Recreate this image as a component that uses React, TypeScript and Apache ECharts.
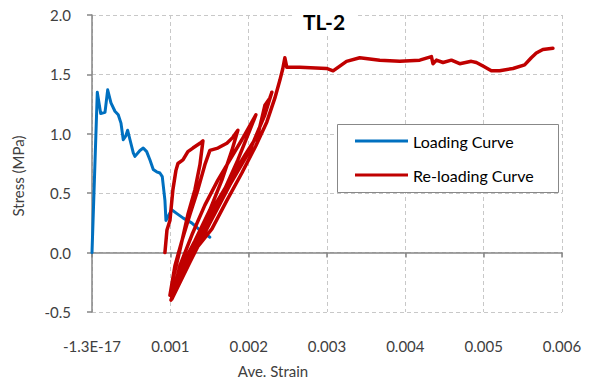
import React, { useEffect, useRef } from "react";
import * as echarts from "echarts";

// Loading curve (strain, stress in MPa)
const loadingStrain = [
  0, 0.0000676, 0.000111, 0.000166, 0.0002, 0.000242, 0.000293, 0.000335, 0.00037,
  0.000399, 0.00043, 0.000455, 0.000485, 0.000527, 0.000548, 0.000612, 0.000654,
  0.000698, 0.00074, 0.000782, 0.000825, 0.000867, 0.000897, 0.000931, 0.000944,
  0.001017, 0.00108, 0.001165, 0.001272, 0.001378, 0.001505,
];
const loadingStress = [
  0.0, 1.35, 1.17, 1.18, 1.37, 1.26, 1.19, 1.16, 1.09, 0.95, 0.98, 1.03, 0.95, 0.84,
  0.81, 0.86, 0.88, 0.85, 0.78, 0.7, 0.68, 0.67, 0.64, 0.44, 0.27, 0.36, 0.33, 0.29,
  0.25, 0.19, 0.13,
];

// Re-loading curve: repeated unload/reload cycles, then the plateau
const reloadStrain = [
  0.000931, 0.000957, 0.000995, 0.001033, 0.001071, 0.001097, 0.001161, 0.001224, 0.001288, 0.001378, 0.001416,
  0.001378, 0.001314, 0.001224, 0.001122, 0.001046, 0.000995,
  0.001059, 0.001148, 0.00125, 0.001352, 0.001441, 0.001505, 0.001607, 0.001722, 0.001798, 0.001862,
  0.001786, 0.001658, 0.001505, 0.001314, 0.001148, 0.00102,
  0.001122, 0.001276, 0.001441, 0.001607, 0.00176, 0.001913, 0.002015, 0.002092,
  0.002015, 0.001862, 0.001658, 0.001441, 0.001224, 0.001008,
  0.001186, 0.001378, 0.001569, 0.00176, 0.001952, 0.002117, 0.002168, 0.002207, 0.00227, 0.002296,
  0.002207, 0.002015, 0.00176, 0.001505, 0.00125, 0.00102,
  0.001122, 0.001314, 0.001531, 0.001722, 0.001913, 0.002092, 0.002232, 0.002334, 0.002398, 0.002436, 0.002462, 0.002487,
  0.002653, 0.002994, 0.003078, 0.003249, 0.003418, 0.003673, 0.003929, 0.004184, 0.004333, 0.004353,
  0.004397, 0.004481, 0.004588, 0.004694, 0.004843, 0.004907, 0.004991, 0.005098, 0.005204, 0.005374,
  0.005523, 0.005608, 0.005672, 0.005756, 0.005884,
];
const reloadStress = [
  0.0, 0.19, 0.27, 0.53, 0.69, 0.75, 0.78, 0.85, 0.88, 0.92, 0.94,
  0.74, 0.53, 0.32, 0.02, -0.19, -0.36,
  -0.11, 0.1, 0.32, 0.53, 0.74, 0.86, 0.88, 0.92, 0.97, 1.03,
  0.86, 0.61, 0.36, 0.1, -0.11, -0.39,
  -0.11, 0.15, 0.4, 0.61, 0.78, 0.95, 1.07, 1.16,
  1.03, 0.78, 0.48, 0.2, -0.07, -0.4,
  -0.08, 0.17, 0.4, 0.61, 0.82, 0.99, 1.13, 1.24, 1.3, 1.35,
  1.16, 0.86, 0.57, 0.25, -0.08, -0.39,
  -0.23, 0.02, 0.2, 0.44, 0.67, 0.9, 1.1, 1.3, 1.45, 1.55, 1.64, 1.56,
  1.56, 1.55, 1.53, 1.61, 1.64, 1.62, 1.61, 1.62, 1.65, 1.59,
  1.62, 1.6, 1.62, 1.59, 1.61, 1.6, 1.57, 1.53, 1.53, 1.55,
  1.58, 1.64, 1.68, 1.71, 1.72,
];

const seriesNames = ["Loading Curve", "Re-loading Curve"];
const xTicks = { min: 0, max: 0.006, interval: 0.001 };
const yTicks = { min: -0.5, max: 2, interval: 0.5 };

const FONT = "Lato, 'Liberation Sans', sans-serif";
const TEXT = "#404040";

export default function App() {
  const ref = useRef<HTMLDivElement>(null);

  useEffect(() => {
    if (!ref.current) return;
    const chart = echarts.init(ref.current, undefined, { renderer: "svg" });
    const zip = (xs: number[], ys: number[]) => xs.map((x, i) => [x, ys[i]]);

    chart.setOption({
      animation: false,
      backgroundColor: "#ffffff",
      textStyle: { fontFamily: FONT },
      title: {
        text: "TL-2",
        left: 292,
        top: 7,
        padding: [4, 11],
        backgroundColor: "#ffffff",
        textStyle: { fontFamily: FONT, fontSize: 21, fontWeight: "bold", color: "#000" },
        z: 10,
      },
      grid: { left: 92, right: 33, top: 15, bottom: 69, containLabel: false },
      xAxis: {
        type: "value",
        ...xTicks,
        axisLine: { lineStyle: { color: "#868686", width: 1.5 } },
        axisTick: { show: true, length: 5, lineStyle: { color: "#868686", width: 1.5 } },
        splitLine: { show: true, lineStyle: { color: "#c8c8c8", type: [4, 3], width: 1 } },
        axisLabel: {
          margin: 26,
          fontSize: 15,
          color: TEXT,
          fontFamily: FONT,
          formatter: (v: number) => (v === 0 ? "-1.3E-17" : v.toFixed(3)),
        },
      },
      yAxis: {
        type: "value",
        ...yTicks,
        axisLine: { show: true, lineStyle: { color: "#868686", width: 1.5 } },
        axisTick: { show: true, length: 5, lineStyle: { color: "#868686", width: 1.5 } },
        splitLine: { show: true, lineStyle: { color: "#c8c8c8", type: [4, 3], width: 1 } },
        axisLabel: {
          margin: 21,
          fontSize: 15,
          color: TEXT,
          fontFamily: FONT,
          formatter: (v: number) => v.toFixed(1),
        },
      },
      legend: {
        orient: "vertical",
        left: 355,
        top: 131,
        padding: 0,
        itemGap: 14,
        itemWidth: 53,
        itemHeight: 3,
        icon: "rect",
        z: 20,
        data: seriesNames,
        textStyle: { fontFamily: FONT, fontSize: 16, color: "#000", lineHeight: 20, padding: [0, 0, 0, 0] },
      },
      graphic: [
        {
          type: "rect",
          z: 15,
          shape: { x: 337.5, y: 124.5, width: 221, height: 68 },
          style: { fill: "#ffffff", stroke: "#888888", lineWidth: 1 },
        },
        {
          type: "text",
          x: 18,
          y: 176,
          rotation: Math.PI / 2,
          style: {
            text: "Stress (MPa)",
            fontFamily: FONT,
            fontSize: 15,
            fill: TEXT,
            textAlign: "center",
            textVerticalAlign: "middle",
          },
        },
        {
          type: "text",
          x: 273,
          y: 371,
          style: {
            text: "Ave. Strain",
            fontFamily: FONT,
            fontSize: 15,
            fill: TEXT,
            textAlign: "center",
            textVerticalAlign: "middle",
          },
        },
      ],
      series: [
        {
          name: seriesNames[0],
          type: "line",
          data: zip(loadingStrain, loadingStress),
          showSymbol: false,
          color: "#0070c0",
          lineStyle: { width: 3, color: "#0070c0", join: "round", cap: "round" },
          z: 2,
        },
        {
          name: seriesNames[1],
          type: "line",
          data: zip(reloadStrain, reloadStress),
          showSymbol: false,
          color: "#c00000",
          lineStyle: { width: 3.5, color: "#c00000", join: "round", cap: "round" },
          z: 3,
        },
      ],
    });

    return () => chart.dispose();
  }, []);

  return <div ref={ref} style={{ width: 595, height: 381, position: "absolute", left: 0, top: 0 }} />;
}
